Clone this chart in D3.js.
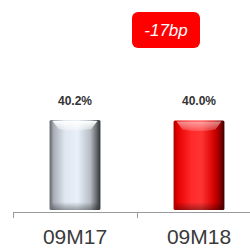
<!DOCTYPE html>
<html>
<head>
<meta charset="utf-8">
<script src="https://cdn.jsdelivr.net/npm/d3@7"></script>
<style>
  body { margin: 0; background: #fff; }
  svg { display: block; }
</style>
</head>
<body>
<div id="chart"></div>
<script>
// data
const periods = ["09M17", "09M18"];
const values = [40.2, 40.0];
const valueLabels = ["40.2%", "40.0%"];
const deltaLabel = "-17bp";

const width = 250, height = 249;
const svg = d3.select("#chart").append("svg")
  .attr("width", width)
  .attr("height", height);

const x = d3.scaleBand()
  .domain(periods)
  .range([13, 261])
  .paddingInner(0.59)
  .paddingOuter(0.295);

const y = d3.scaleLinear()
  .domain([0, 45])
  .range([210, 109.3]);

// gradients for the cylinder look
const defs = svg.append("defs");
const palettes = [
  [["0%", "#5e6166"], ["8%", "#a9aeb6"], ["30%", "#dfe6ef"], ["55%", "#e8f0fa"], ["80%", "#b8bdc5"], ["92%", "#6a6d72"], ["100%", "#2e2f31"]],
  [["0%", "#a80000"], ["8%", "#e60000"], ["35%", "#ff2a2a"], ["55%", "#ff3333"], ["80%", "#d40000"], ["92%", "#8a0000"], ["100%", "#3a0000"]]
];
palettes.forEach((stops, i) => {
  const g = defs.append("linearGradient")
    .attr("id", "bar" + i)
    .attr("x1", "0%").attr("x2", "100%").attr("y1", "0%").attr("y2", "0%");
  stops.forEach(s => g.append("stop").attr("offset", s[0]).attr("stop-color", s[1]));
});
const cap = defs.append("linearGradient")
  .attr("id", "cap")
  .attr("x1", "0%").attr("x2", "0%").attr("y1", "0%").attr("y2", "100%");
cap.append("stop").attr("offset", "0%").attr("stop-color", "#fff").attr("stop-opacity", 1);
cap.append("stop").attr("offset", "100%").attr("stop-color", "#fff").attr("stop-opacity", 0.3);
const foot = defs.append("linearGradient")
  .attr("id", "foot")
  .attr("x1", "0%").attr("x2", "0%").attr("y1", "0%").attr("y2", "100%");
foot.append("stop").attr("offset", "0%").attr("stop-color", "#000").attr("stop-opacity", 0);
foot.append("stop").attr("offset", "100%").attr("stop-color", "#000").attr("stop-opacity", 0.35);

const bars = svg.selectAll(".bar")
  .data(periods.map((p, i) => ({ p, v: values[i], label: valueLabels[i], i })))
  .join("g")
  .attr("class", "bar");

bars.append("rect")
  .attr("x", d => x(d.p))
  .attr("y", d => y(d.v))
  .attr("width", x.bandwidth())
  .attr("height", d => y(0) - y(d.v))
  .attr("rx", 1.5)
  .attr("fill", d => `url(#bar${d.i})`);

// top bevel highlight
bars.append("path")
  .attr("d", d => {
    const x0 = x(d.p) + 3, x1 = x(d.p) + x.bandwidth() - 3, t = y(d.v) + 1;
    return `M${x0},${t} L${x1},${t} L${x1 - 6},${t + 8} Q${(x0 + x1) / 2},${t + 11} ${x0 + 6},${t + 8} Z`;
  })
  .attr("fill", "url(#cap)")
  .attr("opacity", d => d.i === 0 ? 1 : 0.55);

// bottom shade
bars.append("rect")
  .attr("x", d => x(d.p) + 2)
  .attr("y", y(0) - 8)
  .attr("width", x.bandwidth() - 4)
  .attr("height", 8)
  .attr("fill", "url(#foot)");

bars.append("text")
  .attr("x", d => x(d.p) + x.bandwidth() / 2)
  .attr("y", d => y(d.v) - 15)
  .attr("text-anchor", "middle")
  .attr("font-family", "Liberation Sans, Arial, sans-serif")
  .attr("font-weight", "bold")
  .attr("font-size", 12)
  .attr("fill", "#333")
  .text(d => d.label);

// axis: baseline with separators between categories
const axisY = 212;
const half = (x.step() - x.bandwidth()) / 2;
const axis = svg.append("g").attr("stroke", "#9a9a9a").attr("stroke-width", 1);
axis.append("line")
  .attr("x1", x.range()[0]).attr("x2", x.range()[1])
  .attr("y1", axisY + 0.5).attr("y2", axisY + 0.5);
axis.selectAll(".sep")
  .data(periods)
  .join("line")
  .attr("x1", d => x(d) - half + 0.5)
  .attr("x2", d => x(d) - half + 0.5)
  .attr("y1", axisY)
  .attr("y2", axisY + 6);

svg.append("g").selectAll("text")
  .data(periods)
  .join("text")
  .attr("x", d => x(d) + x.bandwidth() / 2)
  .attr("y", 244)
  .attr("text-anchor", "middle")
  .attr("font-family", "Liberation Sans, Arial, sans-serif")
  .attr("font-size", 21)
  .attr("fill", "#3a3a3a")
  .text(d => d);

// change badge
const badge = svg.append("g").attr("transform", "translate(166,30)");
badge.append("rect")
  .attr("x", -34).attr("y", -18)
  .attr("width", 68).attr("height", 36)
  .attr("rx", 6)
  .attr("fill", "#ff0000");
badge.append("text")
  .attr("text-anchor", "middle")
  .attr("dy", "0.35em")
  .attr("font-family", "Liberation Sans, Arial, sans-serif")
  .attr("font-style", "italic")
  .attr("font-size", 17)
  .attr("fill", "#fff")
  .text(deltaLabel);
</script>
</body>
</html>
